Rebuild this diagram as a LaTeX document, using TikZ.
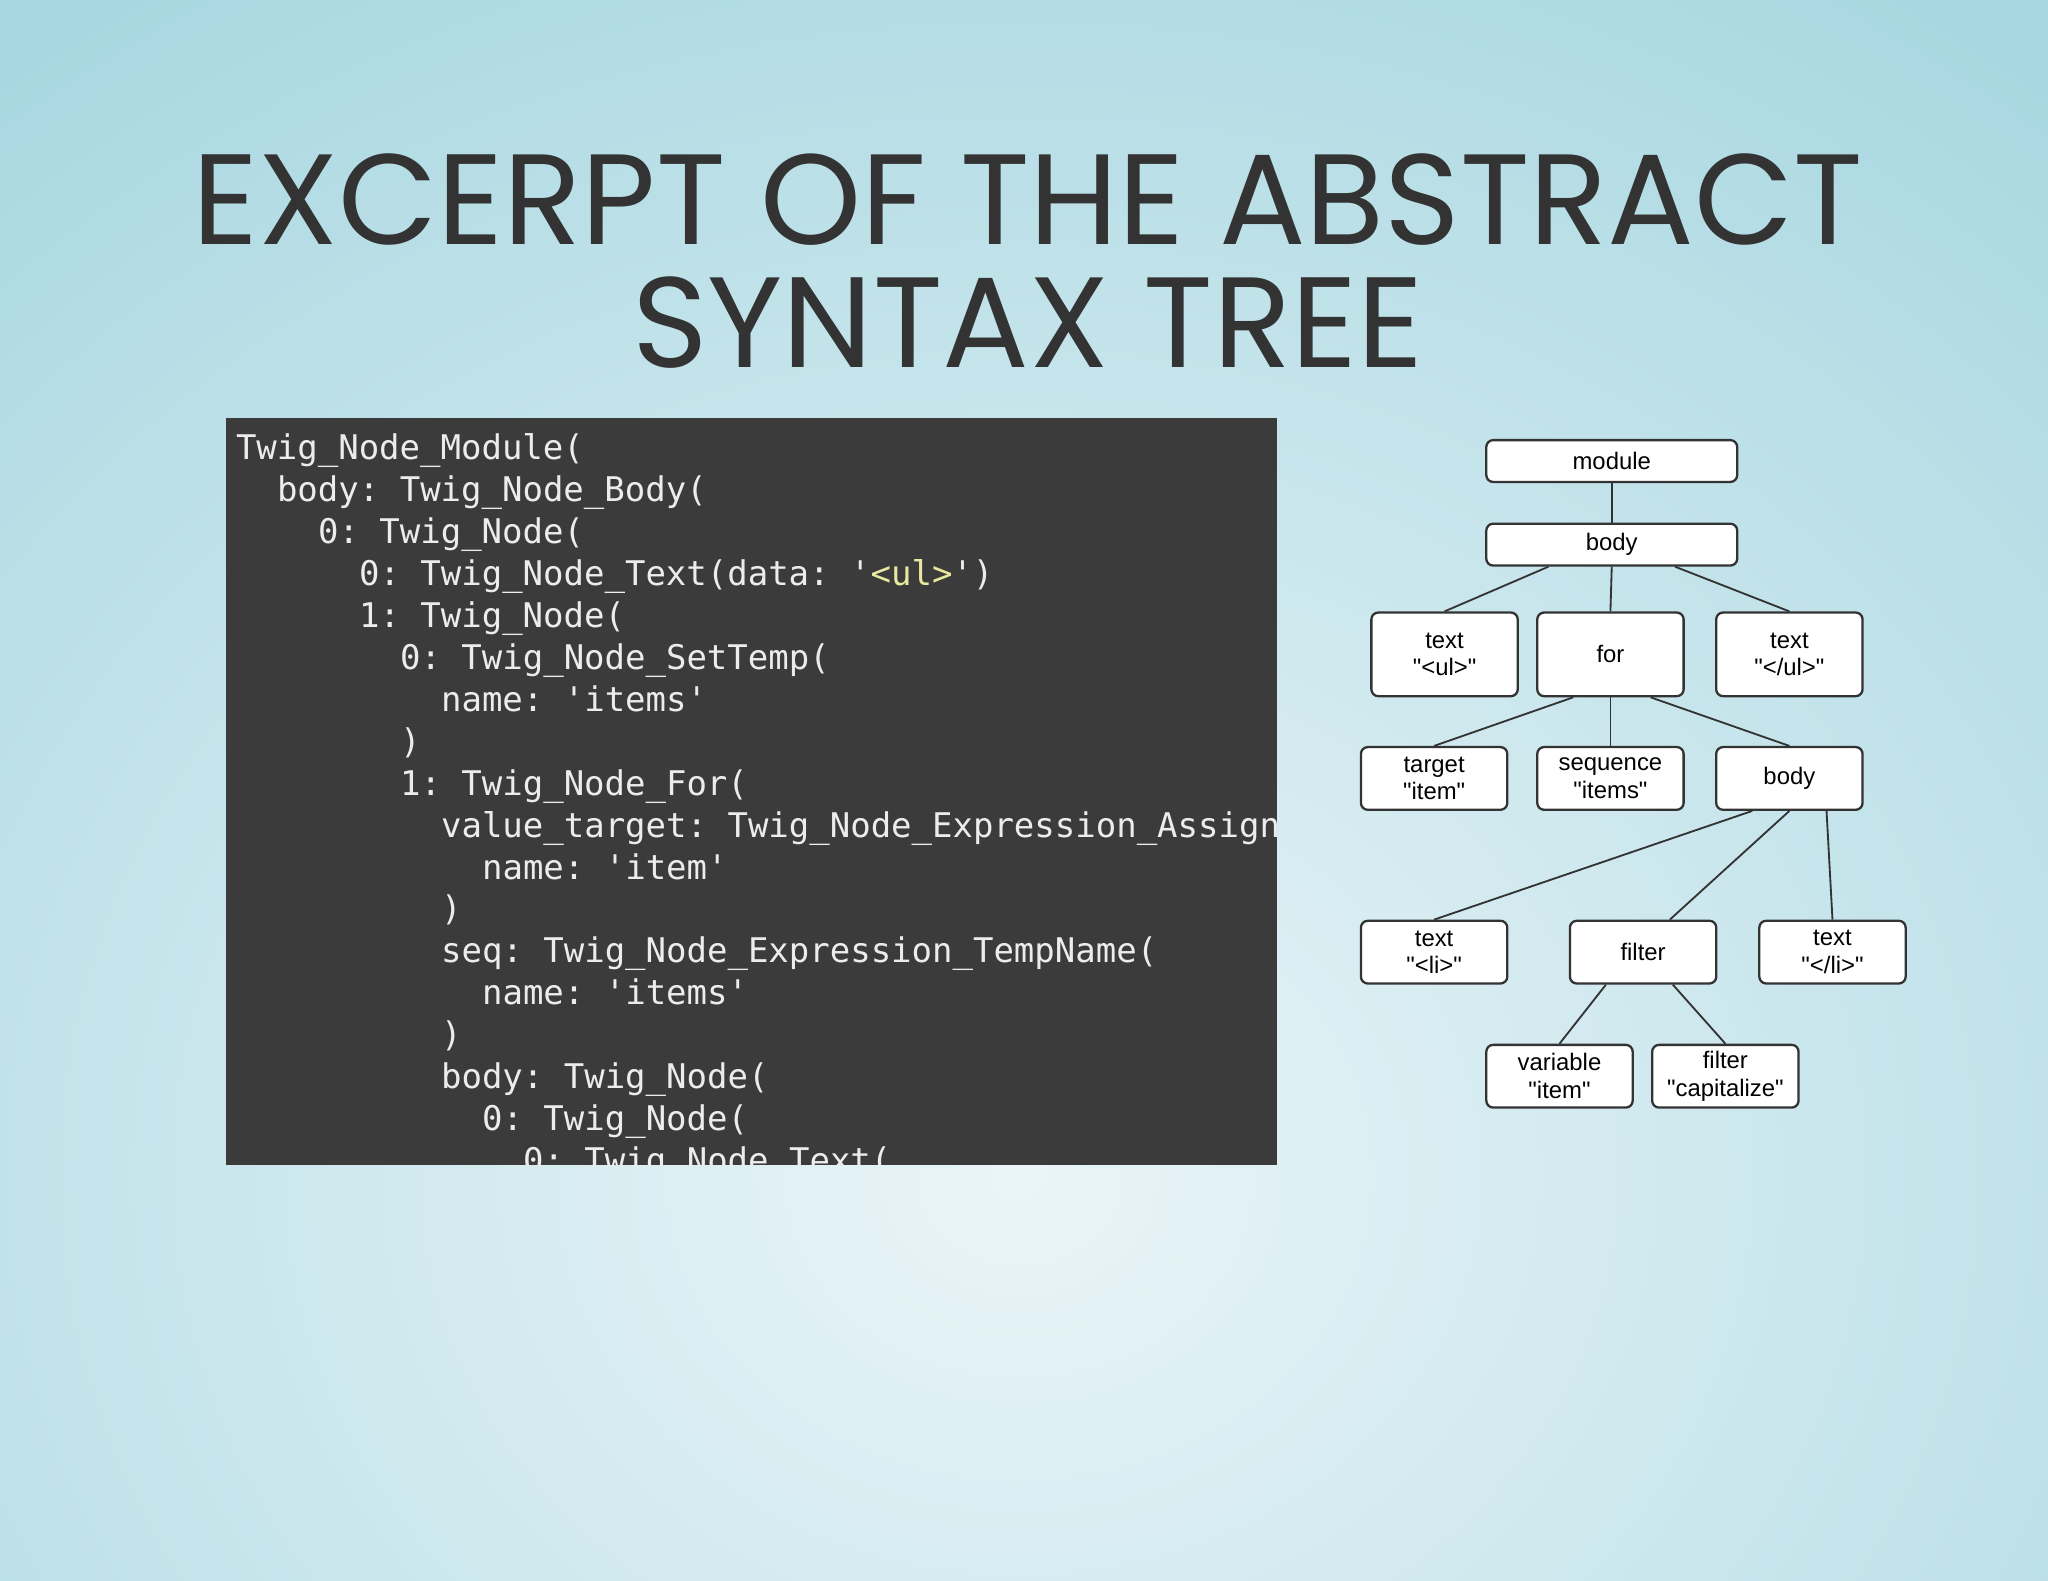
\documentclass[tikz,border=0pt]{standalone}
\usepackage{fontspec}
\setmainfont{Poppins}
\setmonofont{DejaVu Sans Mono}
\newfontfamily\treefont{Liberation Sans}
\usetikzlibrary{calc}
\definecolor{codebg}{HTML}{3C3B3B}
\definecolor{codefg}{HTML}{ECECEC}
\definecolor{codeyel}{HTML}{E8E8A0}
\definecolor{titlec}{HTML}{333333}
\definecolor{bgin}{HTML}{EAF5F8}
\definecolor{bgout}{HTML}{A6D6E0}
\tikzset{
 tn/.style={draw=black!80,line width=0.5pt,rounded corners=1.5pt,fill=white,minimum width=1.12cm,inner sep=0pt,align=center,font=\treefont\fontsize{5.2pt}{6pt}\selectfont},
 tw/.style={tn,minimum width=1.92cm,minimum height=0.32cm},
 ts/.style={tn,minimum height=0.48cm},
 tt/.style={tn,minimum height=0.64cm},
 ed/.style={draw=black!80,line width=0.4pt},
 cl/.style={anchor=base west,inner sep=0pt,text=codefg,font=\ttfamily\fontsize{7.4pt}{9pt}\selectfont}
}
\begin{document}
\begin{tikzpicture}[x=0.01cm,y=-0.01cm]
\useasboundingbox (0,0) rectangle (1568,1210);
\begin{scope}
\clip (0,0) rectangle (1568,1210);
\shade[inner color=bgin,outer color=bgout] (-520,-220) rectangle (2080,2020);
\end{scope}
\node[text=titlec,font=\fontsize{28pt}{26.7pt}\selectfont,align=center,inner sep=0pt] (title) at (787,200) {EXCERPT OF THE ABSTRACT\\SYNTAX TREE};
\fill[codebg] (173,320) rectangle (978,892);
\begin{scope}
\clip (173,320) rectangle (978,892);
\foreach \i/\ind/\t in {
0/0/{Twig\_Node\_Module(},
1/2/{body: Twig\_Node\_Body(},
2/4/{0: Twig\_Node(},
3/6/{0: Twig\_Node\_Text(data: '\textcolor{codeyel}{<ul>}')},
4/6/{1: Twig\_Node(},
5/8/{0: Twig\_Node\_SetTemp(},
6/10/{name: 'items'},
7/8/{)},
8/8/{1: Twig\_Node\_For(},
9/10/{value\_target: Twig\_Node\_Expression\_AssignName(},
10/12/{name: 'item'},
11/10/{)},
12/10/{seq: Twig\_Node\_Expression\_TempName(},
13/12/{name: 'items'},
14/10/{)},
15/10/{body: Twig\_Node(},
16/12/{0: Twig\_Node(},
17/14/{0: Twig\_Node\_Text(}}
 \node[cl] (c\i) at (180+15.7*\ind,352+32.1*\i) {\t};
\end{scope}
\node[tw] (module) at (1234,353) {module};
\node[tw] (body) at (1234,417) {body};
\node[tt] (tul) at (1106,501) {text\\"<ul>"};
\node[tt] (for) at (1233,501) {for};
\node[tt] (tcul) at (1370,501) {text\\"</ul>"};
\node[ts] (target) at (1098,596) {target\\"item"};
\node[ts] (seq) at (1233,596) {sequence\\"items"};
\node[ts] (body2) at (1370,596) {body};
\node[ts] (tli) at (1098,729) {text\\"<li>"};
\node[ts] (filter) at (1258,729) {filter};
\node[ts] (tcli) at (1403,729) {text\\"</li>"};
\node[ts] (var) at (1194,824) {variable\\"item"};
\node[ts] (cap) at (1321,824) {filter\\"capitalize"};
\draw[ed] (module.south) -- (body.north);
\draw[ed] ($(body.south west)!0.25!(body.south east)$) -- (tul.north);
\draw[ed] (body.south) -- (for.north);
\draw[ed] ($(body.south west)!0.75!(body.south east)$) -- (tcul.north);
\draw[ed] ($(for.south west)!0.25!(for.south east)$) -- (target.north);
\draw[ed] (for.south) -- (seq.north);
\draw[ed] ($(for.south west)!0.77!(for.south east)$) -- (body2.north);
\draw[ed] ($(body2.south west)!0.25!(body2.south east)$) -- (tli.north);
\draw[ed] (body2.south) -- ($(filter.north west)!0.68!(filter.north east)$);
\draw[ed] ($(body2.south west)!0.75!(body2.south east)$) -- (tcli.north);
\draw[ed] ($(filter.south west)!0.25!(filter.south east)$) -- (var.north);
\draw[ed] ($(filter.south west)!0.7!(filter.south east)$) -- (cap.north);
\end{tikzpicture}
\end{document}
